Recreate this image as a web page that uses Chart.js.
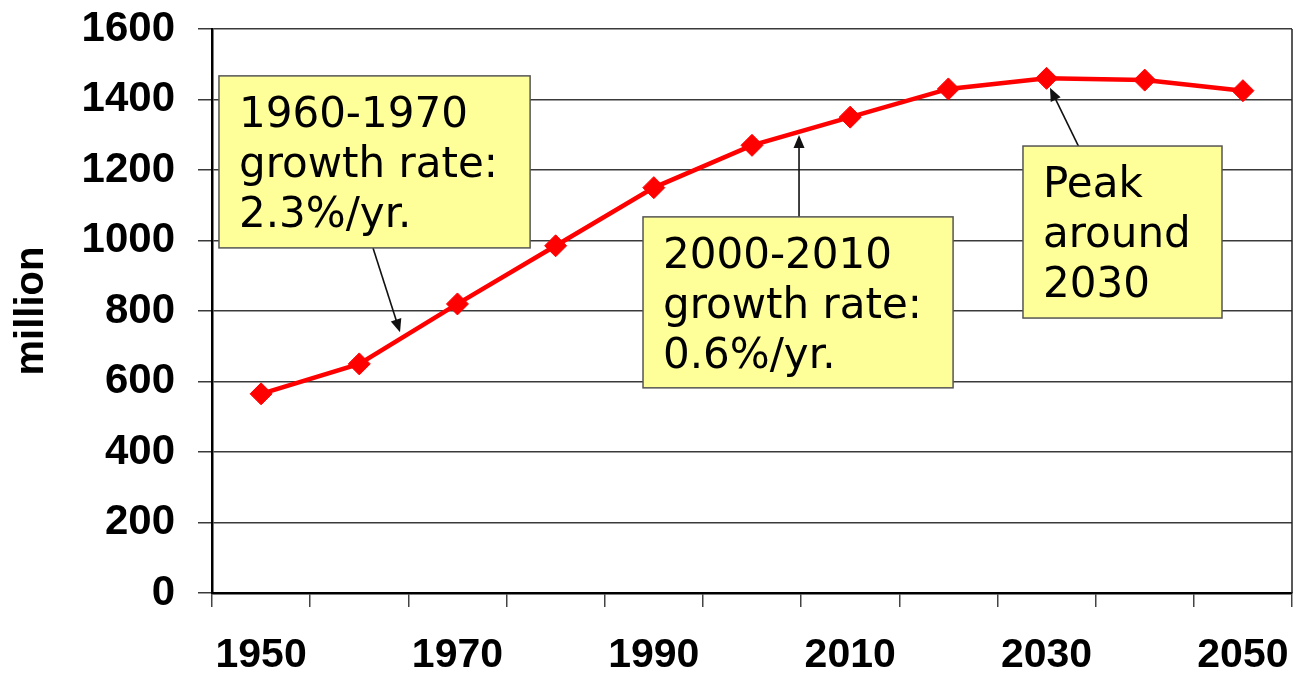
<!DOCTYPE html>
<html>
<head>
<meta charset="utf-8">
<script src="https://cdn.jsdelivr.net/npm/chart.js@4"></script>
<style>
  html, body { margin: 0; padding: 0; background: #fff; }
  #wrap { width: 1296px; height: 678px; position: relative; }
</style>
</head>
<body>
<div id="wrap"><canvas id="c" width="1296" height="678"></canvas></div>
<script>
// ---- data ----
const years = ['1950','1960','1970','1980','1990','2000','2010','2020','2030','2040','2050'];
const population = [565, 650, 820, 985, 1150, 1270, 1350, 1430, 1460, 1455, 1425];
const yTicksMin = 0;
const yTicksMax = 1600;
const yStep = 200;
const yTitle = 'million';

// annotation callouts: text lines, box in (category index, value) space, arrow from/to in same space
const noteTexts = [
  ['1960-1970', 'growth rate:', '2.3%/yr.'],
  ['2000-2010', 'growth rate:', '0.6%/yr.'],
  ['Peak', 'around', '2030']
];
const noteBoxes = [
  [-0.429, 1467, 2.740, 979],
  [3.890, 1067, 7.048, 582],
  [7.760, 1268, 9.787, 780]
];
const noteArrows = [
  [1.140, 979, 1.415, 740],
  [5.479, 1067, 5.479, 1299],
  [8.330, 1265, 8.035, 1433]
];

const notesPlugin = {
  id: 'notes',
  afterDraw(chart) {
    const ctx = chart.ctx, xs = chart.scales.x, ys = chart.scales.y;
    const px = i => xs.getPixelForValue(0) + (xs.getPixelForValue(1) - xs.getPixelForValue(0)) * i;
    const py = v => ys.getPixelForValue(v);
    ctx.save();
    // right border of plot area
    const ca = chart.chartArea;
    ctx.strokeStyle = '#222';
    ctx.lineWidth = 1.5;
    ctx.beginPath();
    ctx.moveTo(ca.right, ca.top);
    ctx.lineTo(ca.right, ca.bottom);
    ctx.stroke();
    // arrows
    noteArrows.forEach(a => {
      const x0 = px(a[0]), y0 = py(a[1]), x1 = px(a[2]), y1 = py(a[3]);
      const ang = Math.atan2(y1 - y0, x1 - x0);
      const hl = 13, hw = 5.5;
      ctx.strokeStyle = '#111';
      ctx.lineWidth = 1.6;
      ctx.beginPath();
      ctx.moveTo(x0, y0);
      ctx.lineTo(x1 - Math.cos(ang) * hl * 0.8, y1 - Math.sin(ang) * hl * 0.8);
      ctx.stroke();
      ctx.fillStyle = '#111';
      ctx.beginPath();
      ctx.moveTo(x1, y1);
      ctx.lineTo(x1 - Math.cos(ang) * hl + Math.sin(ang) * hw, y1 - Math.sin(ang) * hl - Math.cos(ang) * hw);
      ctx.lineTo(x1 - Math.cos(ang) * hl - Math.sin(ang) * hw, y1 - Math.sin(ang) * hl + Math.cos(ang) * hw);
      ctx.closePath();
      ctx.fill();
    });
    // boxes
    noteBoxes.forEach((b, k) => {
      const l = px(b[0]), t = py(b[1]), r = px(b[2]), bt = py(b[3]);
      ctx.fillStyle = '#FFFF99';
      ctx.fillRect(l, t, r - l, bt - t);
      ctx.strokeStyle = '#555';
      ctx.lineWidth = 1.5;
      ctx.strokeRect(l, t, r - l, bt - t);
      ctx.fillStyle = '#000';
      ctx.font = '42px "DejaVu Sans"';
      ctx.textBaseline = 'alphabetic';
      ctx.textAlign = 'left';
      noteTexts[k].forEach((line, j) => {
        ctx.fillText(line, l + 20, t + 51 + j * 50);
      });
    });
    ctx.restore();
  }
};

new Chart(document.getElementById('c'), {
  type: 'line',
  data: {
    labels: years,
    datasets: [{
      data: population,
      borderColor: '#FF0000',
      backgroundColor: '#FF0000',
      borderWidth: 4.5,
      tension: 0,
      pointStyle: 'rectRot',
      pointRadius: 11,
      pointBorderWidth: 1,
      pointBackgroundColor: '#FF0000',
      pointBorderColor: '#FF0000'
    }]
  },
  options: {
    responsive: false,
    animation: false,
    devicePixelRatio: 1,
    layout: { autoPadding: false, padding: { top: 29, right: 4, left: 0, bottom: 0 } },
    plugins: { legend: { display: false }, tooltip: { enabled: false } },
    scales: {
      x: {
        type: 'category',
        offset: true,
        afterFit(s) { s.height = 85; s.paddingLeft = 0; s.paddingRight = 0; },
        grid: { offset: true, drawOnChartArea: false, drawTicks: true, tickLength: 14, color: '#444', lineWidth: 1.5 },
        border: { display: true, color: '#000', width: 2.5 },
        ticks: {
          autoSkip: false, maxRotation: 0, padding: 24,
          color: '#000',
          font: { family: '"Liberation Sans", Arial, sans-serif', size: 41, weight: 'bold' },
          callback: (v, i) => (i % 2 === 0 ? years[i] : '')
        }
      },
      y: {
        min: yTicksMin, max: yTicksMax,
        afterFit(s) { s.width = 212; s.paddingTop = 0; s.paddingBottom = 0; },
        grid: { color: '#3a3a3a', lineWidth: 1.5, drawTicks: true, tickLength: 14, tickColor: '#3a3a3a' },
        border: { display: true, color: '#000', width: 2.5 },
        ticks: {
          stepSize: yStep, padding: 23, color: '#000',
          font: { family: '"Liberation Sans", Arial, sans-serif', size: 42, weight: 'bold' },
          callback: v => String(v)
        },
        title: {
          display: true, text: yTitle, color: '#000',
          padding: { top: 8, bottom: 0 },
          font: { family: '"Liberation Sans", Arial, sans-serif', size: 40, weight: 'bold' }
        }
      }
    }
  },
  plugins: [notesPlugin]
});
</script>
</body>
</html>
